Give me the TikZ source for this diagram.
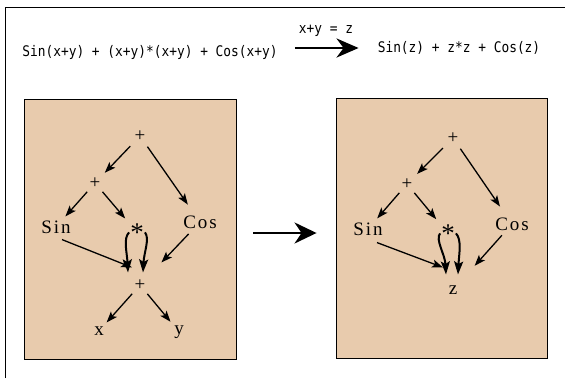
\documentclass[tikz,border=0pt]{standalone}
\usepackage{fontspec}
\setmainfont{Liberation Serif}
\newfontfamily\codefont{DejaVu Sans Mono}[FakeStretch=0.88]
\newfontfamily\treefont{Liberation Serif}[LetterSpace=10]
\usetikzlibrary{arrows.meta, positioning}
\definecolor{paneltan}{RGB}{232,203,173}

\begin{document}
\begin{tikzpicture}[x=1pt, y=-1pt, on grid,
    panel/.style={rectangle, draw, line width=0.9pt, fill=paneltan, minimum width=212pt, minimum height=260pt},
    term/.style={inner sep=1pt, font=\treefont\fontsize{19}{21}\selectfont},
    starterm/.style={inner sep=1pt, font=\treefont\fontsize{27}{27}\selectfont},
    code/.style={inner sep=0pt, font=\codefont\fontsize{14.6}{16}\selectfont},
    link/.style={-{Stealth[length=11pt, width=8pt, inset=2.5pt]}, line width=1.3pt, shorten <=3pt, shorten >=4pt},
    twin/.style={-{Stealth[length=13pt, width=9pt, inset=2.5pt]}, line width=2pt},
    rewrite/.style={-{Stealth[length=22pt, width=19pt, inset=7pt]}, line width=2.8pt}]

    \useasboundingbox (0,0) rectangle (565,378);
    \draw[line width=1pt] (5,378) -- (5,7) -- (565,7);

    % formulas along the top
    \node[code] (before) at (150,52) {Sin(x+y) + (x+y)*(x+y) + Cos(x+y)};
    \node[code] (after) at (459,48) {Sin(z) + z*z + Cos(z)};
    \node[code] (subst) at (326,31) {x+y = z};
    \draw[rewrite, shorten <=17pt, shorten >=19pt] (before.east |- after.west) -- (after.west);

    % the two expression trees
    \node[panel] (lhs) at (130,229) {};
    \node[panel, minimum width=211pt] (rhs) at (441.5,228) {};
    \draw[rewrite, line width=2.4pt, -{Stealth[length=22pt, width=21pt, inset=7pt]}, shorten <=17pt, shorten >=19pt]
        ([yshift=-4pt]lhs.east) -- ([yshift=-5pt]rhs.west);

    % before substitution
    \node[term] (top) at (140,136) {+};
    \node[term, below left=47pt and 45pt of top] (sum) {+};
    \node[term, below left=44pt and 39pt of sum] (sin) {Sin};
    \node[starterm, below right=49.4pt and 42pt of sum] (prod) {*};
    \node[term, below right=86pt and 60pt of top] (cos) {Cos};
    \node[term, below=149pt of top] (low) {+};
    \node[term, below left=46pt and 41pt of low] (x) {x};
    \node[term, below right=47pt and 39pt of low] (y) {y};

    \draw[link, shorten <=5pt, shorten >=5pt] (top) -- (sum);
    \draw[link, shorten <=5pt, shorten >=12pt] (top) -- (cos);
    \draw[link] (sum) -- (sin);
    \draw[link, shorten >=6pt] (sum) -- (prod);
    \draw[link, shorten <=0pt, shorten >=0pt] ([xshift=6pt, yshift=-5pt]sin.south) -- ([xshift=-8pt, yshift=11pt]low.north);
    \draw[twin] (prod.west) .. controls +(-6,6) and +(-1,-20) .. ([xshift=-12pt, yshift=6pt]low.north);
    \draw[twin] (prod.east) .. controls +(5,6) and +(1,-20) .. ([xshift=3pt, yshift=6pt]low.north);
    \draw[link, shorten <=6pt, shorten >=22pt] (cos) -- (low);
    \draw[link] (low) -- (x);
    \draw[link] (low) -- (y);

    % after substitution
    \node[term] (top2) at (453,138) {+};
    \node[term, below left=46pt and 46pt of top2] (sum2) {+};
    \node[term, below left=45pt and 39pt of sum2] (sin2) {Sin};
    \node[starterm, below right=49.4pt and 41pt of sum2] (prod2) {*};
    \node[term, below right=86pt and 59pt of top2] (cos2) {Cos};
    \node[term, below=152pt of top2] (z) {z};

    \draw[link, shorten <=5pt, shorten >=5pt] (top2) -- (sum2);
    \draw[link, shorten <=5pt, shorten >=12pt] (top2) -- (cos2);
    \draw[link] (sum2) -- (sin2);
    \draw[link, shorten >=6pt] (sum2) -- (prod2);
    \draw[link, shorten <=0pt, shorten >=0pt] ([xshift=9pt, yshift=-6pt]sin2.south) -- ([xshift=-10pt, yshift=17pt]z.north);
    \draw[twin] (prod2.west) .. controls +(-5,6) and +(-1,-20) .. ([xshift=-7pt, yshift=10pt]z.north);
    \draw[twin] (prod2.east) .. controls +(6,6) and +(1,-20) .. ([xshift=5pt, yshift=10pt]z.north);
    \draw[link, shorten <=5pt, shorten >=25pt] (cos2) -- (z);
\end{tikzpicture}
\end{document}
